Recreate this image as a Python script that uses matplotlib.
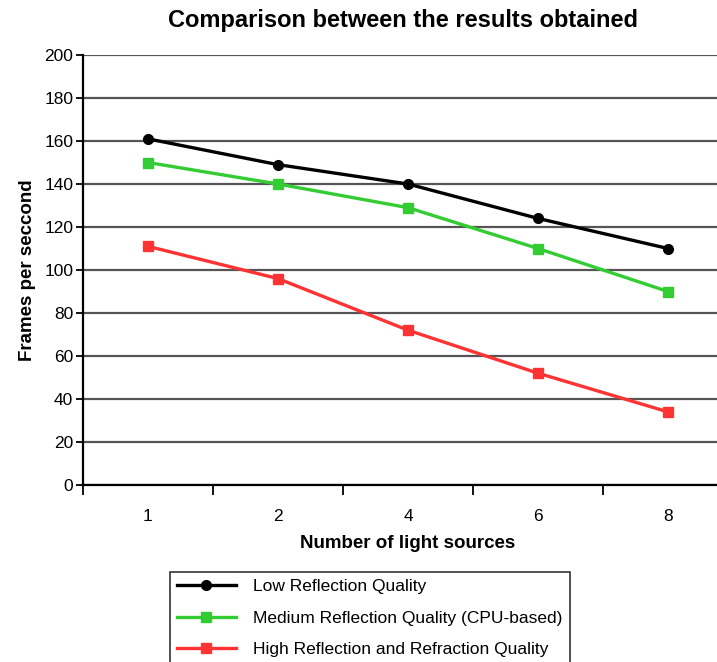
import matplotlib
matplotlib.use("Agg")
import matplotlib.pyplot as plt
import numpy as np

categories = ["1", "2", "4", "6", "8"]
low = [161, 149, 140, 124, 110]
medium = [150, 140, 129, 110, 90]
high = [111, 96, 72, 52, 34]
y_ticks = [0, 20, 40, 60, 80, 100, 120, 140, 160, 180, 200]

plt.rcParams['font.family'] = ['Liberation Sans', 'DejaVu Sans']

W, H = 717, 662
fig = plt.figure(figsize=(W / 100, H / 100), dpi=100)
ax = fig.add_axes([83 / W, (H - 485) / H, 650 / W, 430 / H])

x = np.arange(len(categories))
ax.plot(x, low, color='black', lw=2.4, marker='o', ms=7, label='Low Reflection Quality', zorder=5)
ax.plot(x, medium, color='#33cc33', lw=2.4, marker='s', ms=7, label='Medium Reflection Quality (CPU-based)', zorder=4)
ax.plot(x, high, color='#ff3333', lw=2.4, marker='s', ms=7, label='High Reflection and Refraction Quality', zorder=4)

ax.set_xlim(-0.5, len(categories) - 0.5)
ax.set_ylim(0, 200)
ax.set_yticks(y_ticks)
ax.set_yticklabels([str(v) for v in y_ticks], fontsize=12.5)
ax.set_xticks(x)
ax.set_xticklabels(categories, fontsize=12.5)
ax.tick_params(axis='x', which='major', length=0, pad=17)
ax.set_xticks(np.arange(-0.5, len(categories)), minor=True)
ax.tick_params(axis='x', which='minor', length=7, width=1.3, direction='out')
ax.tick_params(axis='y', length=5, width=1.3, direction='out', pad=2)

for v in y_ticks:
    ax.axhline(v, color='#555555', lw=1.6, zorder=1)

for s in ['top', 'right']:
    ax.spines[s].set_visible(False)
ax.spines['left'].set_linewidth(1.6)
ax.spines['bottom'].set_linewidth(1.6)

ax.set_xlabel('Number of light sources', fontsize=13.5, fontweight='bold', labelpad=8)
ax.set_ylabel('Frames per seccond', fontsize=13.5, fontweight='bold', labelpad=6)
fig.text(403 / W, 1 - 20 / H, 'Comparison between the results obtained', ha='center', va='center',
         fontsize=17, fontweight='bold')

leg = fig.legend(loc='upper left', bbox_to_anchor=(170 / W, 1 - 572 / H), fontsize=12.5,
                 frameon=True, fancybox=False, edgecolor='black', handlelength=3.4,
                 handletextpad=1.0, borderpad=0.4, labelspacing=0.95, borderaxespad=0)
leg.get_frame().set_linewidth(1.2)

fig.savefig('out.png', dpi=100)
